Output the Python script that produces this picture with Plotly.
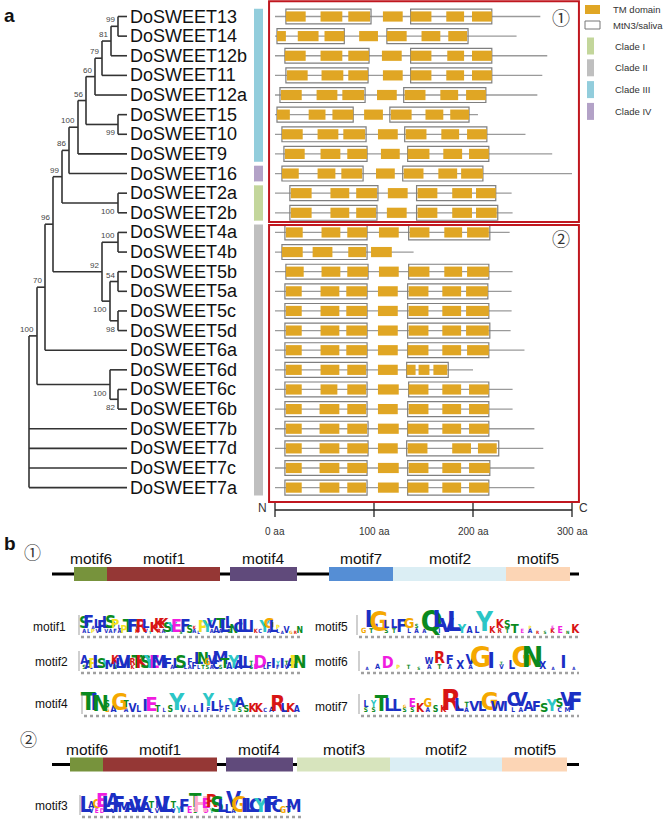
import plotly.graph_objects as go

W, H = 669, 820
FONT = "Liberation Sans, Arial, Helvetica, sans-serif"

# ---------------- panel a data ----------------
genes = ["DoSWEET13", "DoSWEET14", "DoSWEET12b", "DoSWEET11", "DoSWEET12a", "DoSWEET15",
         "DoSWEET10", "DoSWEET9", "DoSWEET16", "DoSWEET2a", "DoSWEET2b", "DoSWEET4a",
         "DoSWEET4b", "DoSWEET5b", "DoSWEET5a", "DoSWEET5c", "DoSWEET5d", "DoSWEET6a",
         "DoSWEET6d", "DoSWEET6c", "DoSWEET6b", "DoSWEET7b", "DoSWEET7d", "DoSWEET7c", "DoSWEET7a"]
protein_len = [268, 244, 275, 270, 265, 205, 253, 280, 300, 239, 240, 237, 140, 240, 239,
               239, 238, 252, 200, 240, 240, 262, 271, 262, 262]
mtn3_domains = [
    [(11, 97), (137, 219)], [(2, 70), (113, 195)], [(10, 95), (137, 219)], [(11, 94), (137, 219)],
    [(5, 91), (130, 213)], [(2, 79), (116, 196)], [(7, 92), (131, 214)], [(9, 93), (134, 216)],
    [(7, 89), (129, 210)], [(15, 104), (143, 223)], [(15, 103), (143, 225)], [(10, 93), (135, 217)],
    [(7, 93)], [(11, 94), (135, 216)], [(10, 93), (134, 215)], [(10, 93), (134, 216)],
    [(10, 93), (134, 217)], [(10, 93), (134, 216)], [(10, 93), (133, 175)], [(10, 93), (135, 216)],
    [(10, 93), (134, 216)], [(10, 94), (134, 216)], [(10, 94), (133, 226)], [(10, 93), (134, 217)],
    [(10, 93), (134, 216)]]
tm_domains = [
    [(11, 31), (46, 68), (74, 96), (109, 129), (137, 158), (173, 191), (199, 219)],
    [(2, 11), (23, 44), (50, 70), (85, 104), (113, 133), (148, 167), (175, 194)],
    [(10, 31), (46, 68), (74, 95), (108, 128), (137, 158), (174, 191), (199, 219)],
    [(12, 33), (47, 69), (74, 94), (109, 129), (137, 158), (173, 191), (199, 219)],
    [(6, 27), (42, 63), (68, 90), (103, 123), (131, 152), (167, 185), (193, 213)],
    [(2, 15), (34, 51), (58, 79), (90, 109), (117, 138), (152, 170), (177, 196)],
    [(7, 28), (43, 64), (69, 91), (104, 124), (132, 153), (168, 186), (194, 214)],
    [(10, 30), (46, 66), (73, 93), (107, 126), (134, 156), (170, 189), (196, 216)],
    [(7, 24), (43, 61), (67, 88), (102, 121), (130, 150), (165, 184), (188, 210)],
    [(16, 37), (56, 75), (82, 103), (114, 134), (144, 164), (179, 199), (203, 223)],
    [(16, 37), (56, 75), (82, 102), (113, 133), (144, 164), (179, 199), (203, 224)],
    [(11, 28), (47, 66), (73, 93), (105, 125), (136, 156), (171, 189), (194, 216)],
    [(7, 28), (38, 58), (74, 92), (97, 118)],
    [(11, 29), (47, 66), (73, 94), (105, 125), (135, 156), (171, 189), (194, 216)],
    [(11, 27), (46, 65), (72, 93), (104, 124), (135, 155), (169, 188), (193, 215)],
    [(11, 27), (46, 65), (72, 93), (104, 124), (135, 155), (169, 188), (193, 216)],
    [(11, 27), (46, 65), (72, 93), (104, 124), (135, 155), (169, 188), (193, 216)],
    [(11, 27), (46, 65), (72, 93), (104, 124), (134, 155), (169, 188), (194, 216)],
    [(11, 27), (46, 65), (73, 92), (104, 124), (133, 142), (145, 156), (160, 174)],
    [(11, 27), (46, 63), (73, 92), (104, 125), (135, 155), (169, 188), (196, 216)],
    [(11, 27), (45, 65), (73, 92), (104, 124), (135, 155), (169, 188), (196, 216)],
    [(11, 27), (45, 65), (73, 93), (104, 125), (134, 155), (169, 188), (196, 216)],
    [(11, 27), (45, 65), (73, 94), (104, 124), (134, 154), (179, 198), (205, 224)],
    [(11, 27), (45, 65), (73, 93), (104, 125), (135, 155), (169, 188), (196, 217)],
    [(11, 27), (45, 65), (73, 92), (104, 125), (134, 155), (169, 188), (196, 216)]]

clades = [("Clade III", 0, 7, "#92CDDC"), ("Clade IV", 8, 8, "#B3A2C7"),
          ("Clade I", 9, 10, "#C3D69B"), ("Clade II", 11, 24, "#BFBFBF")]
legend_clades = ["Clade I", "Clade II", "Clade III", "Clade IV"]
groups = [("①", 0, 10), ("②", 11, 24)]

# tree: node, depth, bootstrap, label side, children
tree = [
    ("root", 29, "", "top", ["n100c", "DoSWEET7b", "DoSWEET7d", "DoSWEET7c", "DoSWEET7a"]),
    ("n100c", 37, "100", "top", ["n70", "n6grp"]),
    ("n70", 45, "70", "top", ["n96", "DoSWEET6a"]),
    ("n96", 53, "96", "top", ["n99b", "n92"]),
    ("n99b", 62, "99", "top", ["n86", "n2ab"]),
    ("n86", 69, "86", "top", ["n100a", "DoSWEET16"]),
    ("n100a", 78, "100", "top", ["n56", "DoSWEET9"]),
    ("n56", 86, "56", "top", ["n60", "n15_10"]),
    ("n60", 95, "60", "top", ["n79", "DoSWEET12a"]),
    ("n79", 102, "79", "top", ["n81", "DoSWEET11"]),
    ("n81", 111, "81", "top", ["n13_14", "DoSWEET12b"]),
    ("n13_14", 118, "99", "top", ["DoSWEET13", "DoSWEET14"]),
    ("n15_10", 118, "99", "bottom", ["DoSWEET15", "DoSWEET10"]),
    ("n2ab", 118, "100", "bottom", ["DoSWEET2a", "DoSWEET2b"]),
    ("n92", 102, "92", "top", ["n4ab", "n5grp"]),
    ("n4ab", 118, "100", "top", ["DoSWEET4a", "DoSWEET4b"]),
    ("n5grp", 110, "100", "bottom", ["n5ba", "n5cd"]),
    ("n5ba", 118, "54", "top", ["DoSWEET5b", "DoSWEET5a"]),
    ("n5cd", 118, "98", "bottom", ["DoSWEET5c", "DoSWEET5d"]),
    ("n6grp", 110, "100", "bottom", ["DoSWEET6d", "n6cb"]),
    ("n6cb", 118, "82", "bottom", ["DoSWEET6c", "DoSWEET6b"]),
]
LEAF_DEPTH = 127

aa_ticks = [0, 100, 200, 300]
aa_tick_text = ["0 aa", "100 aa", "200 aa", "300 aa"]

# ---------------- panel b data ----------------
motif_colors = {"motif1": "#953735", "motif2": "#DBEEF4", "motif3": "#D7E4BD", "motif4": "#604A7B",
                "motif5": "#FCD5B5", "motif6": "#77933C", "motif7": "#558ED5"}
diag1_len = 527
diag1 = [("motif6", 22, 55), ("motif1", 55, 168), ("motif4", 178, 245),
         ("motif7", 277, 341), ("motif2", 341, 454), ("motif5", 454, 518)]
diag2_len = 527
diag2 = [("motif6", 18, 51), ("motif1", 51, 165), ("motif4", 174, 241),
         ("motif3", 245, 338), ("motif2", 338, 450), ("motif5", 450, 515)]

logo_motif1 = "SFALFLSPLPTFVRLYKKKSYESFSKLPYVATLLNCLLIKCYGLPAVGRN"
logo_motif1_h = [.55, .6, .15, .45, .55, .55, .6, .45, .2, .35, .85, .6, .15, .6, .45, .15, .5, .5, .5, .5,
                 .5, .65, .15, .6, .35, .15, .15, .55, .55, .5, .3, .5, .75, .55, .4, .5, .7, .7, .55, .2,
                 .2, .55, .5, .55, .2, .15, .3, .15, .15, .3]
logo_motif1_sub = "ALPV.VAFA...K.V..RA......A...A.A.S........A.L....."
logo_motif5 = "GLGLLFGSAQLVLYALYKKSTEPRSEENK"
logo_motif5_h = [.25, .8, .9, .35, .4, .6, .5, .2, .2, 1.0, .8, .7, .9, .45, .3, .3, .9, .3, .4, .35,
                 .45, .2, .15, .15, .15, .15, .3, .15, .4]
logo_motif5_sub = ".T.ST.LA..I.......RT..A..K..."
logo_motif2 = "AAPLSYMKLVIRTKSYEMIFALSLFFLNGVCMTAYALLTEDLFIYITAPN"
logo_motif2_h = [.4, .4, .5, .8, .5, .4, .45, .4, .5, .6, .65, .3, .8, .85, .85, .7, .6, .9, .9, .5,
                 .2, .5, .8, .2, .3, .3, .55, .55, .3, .4, .4, .7, .5, .3, .6, .4, .65, .55, .2, .25,
                 .8, .2, .3, .5, .2, .5, .2, .5, .8, .9]
logo_motif2_sub = "S......N...K............A.LTSA.S......S.....F.V..."
logo_motif6 = "AADPTSWRFXVGITLGNXAIA"
logo_motif6_h = [.1, .25, .55, .2, .2, .1, .3, .55, .45, .4, .5, 1.0, .75, .1, .4, 1.0, 1.0, .35, .1, .6, .1]
logo_motif6_sub = "......ATA.A..V......."
logo_motif4 = "TINSAGTVLIETLSYVLLIYLLFYASKKCARLKA"
logo_motif4_h = [1.0, .8, .75, .3, .3, .8, .3, .4, .3, .55, .7, .3, .2, .3, .8, .3, .2, .3, .4, .6,
                 .5, .3, .3, .6, .5, .3, .4, .4, .2, .25, .75, .4, .45, .3]
logo_motif4_sub = "...G..A............F.F..S.........."
logo_motif7 = "LYTLLGEKGSKRLTVLGWICVAFSYSVF"
logo_motif7_h = [.3, .3, .75, .6, .55, .15, .4, .4, .4, .3, .3, 1.0, .6, .25, .5, .5, .85, .5, .5, .7,
                 .7, .5, .5, .45, .55, .4, .7, .85]
logo_motif7_sub = "SS...SS.A....A.....LA....CM."
logo_motif3 = "LAGELAFMAVVATIVLTYFETHERSLLVGILCYIFCGTMY"
logo_motif3_h = [.9, .3, .4, .7, .75, .7, .8, .5, .5, .6, .8, .5, .3, .3, .8, .8, .3, .3, .6, .3,
                 .7, .8, .5, .6, .8, .6, .4, .85, .9, .7, .7, .7, .7, .7, .75, .6, .3, .3, .6, .9]
logo_motif3_sub = ".VED.V......LV..V...S.DY...A..........."

aa_colors = {}
for c in "ACFILMVWX":
    aa_colors[c] = "#1B2FC4"
for c in "NQST":
    aa_colors[c] = "#0A8A1E"
for c in "DE":
    aa_colors[c] = "#F01CE0"
for c in "KR":
    aa_colors[c] = "#D81414"
aa_colors["H"] = "#FFA8C8"
aa_colors["G"] = "#F5A800"
aa_colors["P"] = "#F2E21C"
aa_colors["Y"] = "#2CC6C6"

# ---------------- helpers ----------------
def pxx(x):
    return x / W


def pxy(y):
    return 1 - y / H


ROW0, ROWSTEP = 16.5, 19.63


def row_of(p):
    return (p - ROW0) / ROWSTEP


AA0, AASCALE = 275, 0.99

fig = go.Figure()
shapes = []
ann = []


def add_ann(**kw):
    kw.setdefault("showarrow", False)
    kw.setdefault("xanchor", "center")
    kw.setdefault("yanchor", "middle")
    ann.append(kw)


# ---------------- tree ----------------
nodes = {n[0]: n for n in tree}
ypos = {g: i for i, g in enumerate(genes)}


def node_y(name):
    if name in ypos:
        return ypos[name]
    ys = [node_y(c) for c in nodes[name][4]]
    ypos[name] = (min(ys) + max(ys)) / 2
    return ypos[name]


def depth(name):
    return nodes[name][1] if name in nodes else LEAF_DEPTH


tx, ty = [], []
for name, d, sup, side, children in tree:
    cys = [node_y(c) for c in children]
    tx += [d, d, None]
    ty += [min(cys), max(cys), None]
    for c, cy in zip(children, cys):
        tx += [d, depth(c), None]
        ty += [cy, cy, None]
    if sup:
        add_ann(x=d - 0.8, y=node_y(name), xref="x", yref="y", text=sup,
                xanchor="right", yanchor="bottom" if side == "top" else "top",
                yshift=0 if side == "top" else -2,
                font=dict(size=8, color="#444", family=FONT))

fig.add_trace(go.Scatter(x=tx, y=ty, mode="lines", line=dict(color="#333", width=1.6),
                         xaxis="x", yaxis="y", hoverinfo="skip"))

for i, g in enumerate(genes):
    add_ann(x=LEAF_DEPTH + 0.5, y=i, xref="x", yref="y", text=g,
            xanchor="left", font=dict(size=18, color="#111", family=FONT))

# clade bars
for name, r0, r1, col in clades:
    shapes.append(dict(type="rect", xref="x", yref="y", x0=254, x1=263, y0=r0 - 0.4, y1=r1 + 0.4,
                       fillcolor=col, line=dict(width=0), layer="above"))

# ---------------- gene structures ----------------
gx, gy = [], []
for i, L in enumerate(protein_len):
    gx += [0, L, None]
    gy += [i, i, None]
fig.add_trace(go.Scatter(x=gx, y=gy, mode="lines", line=dict(color="#9A9A9A", width=1.3),
                         xaxis="x2", yaxis="y", hoverinfo="skip"))
for i, doms in enumerate(mtn3_domains):
    for s, e in doms:
        shapes.append(dict(type="rect", xref="x2", yref="y", x0=s, x1=e, y0=i - 0.38, y1=i + 0.38,
                           line=dict(color="#7F7F7F", width=1.2), fillcolor="rgba(0,0,0,0)"))
TM_COLOR = "#E0A624"
for i, doms in enumerate(tm_domains):
    for s, e in doms:
        shapes.append(dict(type="rect", xref="x2", yref="y", x0=s, x1=e, y0=i - 0.26, y1=i + 0.26,
                           line=dict(width=0), fillcolor=TM_COLOR))

# red group boxes
pads = {"①": (0.78, 0.47), "②": (0.38, 0.73)}
for lab, r0, r1 in groups:
    pt, pb = pads[lab]
    shapes.append(dict(type="rect", xref="x2", yref="y", x0=-6, x1=307, y0=r0 - pt, y1=r1 + pb,
                       line=dict(color="#C0171F", width=2), fillcolor="rgba(0,0,0,0)"))
    add_ann(x=289, y=r0 + (0.0 if lab == "①" else 0.3), xref="x2", yref="y", text=lab,
            font=dict(size=18, color="#333", family="Noto Sans CJK JP"))

# aa axis
shapes.append(dict(type="line", xref="x2", yref="paper", x0=0, x1=300, y0=pxy(510), y1=pxy(510),
                   line=dict(color="#222", width=1.3)))
for t, tt in zip(aa_ticks, aa_tick_text):
    shapes.append(dict(type="line", xref="x2", yref="paper", x0=t, x1=t, y0=pxy(503), y1=pxy(517),
                       line=dict(color="#222", width=1.3)))
    add_ann(x=t, y=pxy(531), xref="x2", yref="paper", text=tt,
            font=dict(size=10, color="#333", family=FONT))
add_ann(x=-13, y=pxy(508), xref="x2", yref="paper", text="N", font=dict(size=12, color="#333", family=FONT))
add_ann(x=312, y=pxy(508), xref="x2", yref="paper", text="C", font=dict(size=12, color="#333", family=FONT))

# legend
shapes.append(dict(type="rect", xref="paper", yref="paper", x0=pxx(585), x1=pxx(600), y0=pxy(14), y1=pxy(5),
                   fillcolor=TM_COLOR, line=dict(width=0)))
shapes.append(dict(type="rect", xref="paper", yref="paper", x0=pxx(585), x1=pxx(600), y0=pxy(29), y1=pxy(21),
                   fillcolor="white", line=dict(color="#777", width=1)))
add_ann(x=pxx(611), y=pxy(9.5), xref="paper", yref="paper", text="TM domain",
        xanchor="left", font=dict(size=9.5, color="#333", family=FONT))
add_ann(x=pxx(611), y=pxy(25), xref="paper", yref="paper", text="MtN3/saliva",
        xanchor="left", font=dict(size=9.5, color="#333", family=FONT))
clade_col = {c[0]: c[3] for c in clades}
for k, name in enumerate(legend_clades):
    yc = 46 + 21.8 * k
    shapes.append(dict(type="rect", xref="paper", yref="paper", x0=pxx(587), x1=pxx(594),
                       y0=pxy(yc + 8.5), y1=pxy(yc - 8.5), fillcolor=clade_col[name], line=dict(width=0)))
    add_ann(x=pxx(613), y=pxy(yc), xref="paper", yref="paper", text=name,
            xanchor="left", font=dict(size=9.5, color="#333", family=FONT))

# panel letters
add_ann(x=pxx(9), y=pxy(15), xref="paper", yref="paper", text="<b>a</b>",
        font=dict(size=19, color="#111", family=FONT))
add_ann(x=pxx(10), y=pxy(543), xref="paper", yref="paper", text="<b>b</b>",
        font=dict(size=19, color="#111", family=FONT))

# ---------------- panel b: motif diagrams ----------------
diagrams = [("①", diag1_len, diag1, 574, 558, (32, 551)), ("②", diag2_len, diag2, 764.5, 749, (28, 738))]
for lab, L, motifs, yc, ylab, cpos in diagrams:
    fig.add_trace(go.Scatter(x=[0, L], y=[yc, yc], mode="lines", line=dict(color="black", width=3),
                             xaxis="x3", yaxis="y2", hoverinfo="skip"))
    for m, s, e in motifs:
        shapes.append(dict(type="rect", xref="x3", yref="y2", x0=s, x1=e, y0=yc - 7, y1=yc + 7,
                           fillcolor=motif_colors[m], line=dict(width=0)))
        add_ann(x=(s + e) / 2, y=ylab, xref="x3", yref="y2", text=m,
                font=dict(size=15.5, color="#111", family=FONT))
    add_ann(x=pxx(cpos[0]), y=pxy(cpos[1]), xref="paper", yref="paper", text=lab,
            font=dict(size=17, color="#333", family="Noto Sans CJK JP"))

# ---------------- panel b: logos ----------------
logos = [
    ("motif1", logo_motif1, logo_motif1_h, logo_motif1_sub, (82, 302, 634, 627, 68)),
    ("motif5", logo_motif5, logo_motif5_h, logo_motif5_sub, (360, 579, 634, 627, 350)),
    ("motif2", logo_motif2, logo_motif2_h, logo_motif2_sub, (82, 302, 670, 662, 70)),
    ("motif6", logo_motif6, logo_motif6_h, logo_motif6_sub, (362, 579, 670, 662, 350)),
    ("motif4", logo_motif4, logo_motif4_h, logo_motif4_sub, (85, 300, 713, 704, 70)),
    ("motif7", logo_motif7, logo_motif7_h, logo_motif7_sub, (362, 579, 713, 707, 350)),
    ("motif3", logo_motif3, logo_motif3_h, logo_motif3_sub, (83, 302, 814, 806, 70)),
]
LOGO_FONT = "Liberation Sans Narrow, DejaVu Sans Condensed, Liberation Sans, Arial"
layout_axes = {}
for k, (name, seq, hts, sub, (x0, x1, base, ylab, xlab)) in enumerate(logos):
    ax = 4 + k
    n = len(seq)
    spacing = (x1 - x0) / n
    cap = spacing * 3.4 + 3
    layout_axes["xaxis%d" % ax] = dict(domain=[pxx(x0), pxx(x1)], range=[0.5, n + 0.5],
                                       anchor="y2", visible=False)
    pos = list(range(1, n + 1))
    sub_size = max(4.5, min(6.5, spacing * 1.3))
    sx, sy, st, sc = [], [], [], []
    for p, ch in zip(pos, sub):
        if ch != ".":
            sx.append(p)
            sy.append(base - 0.36 * sub_size)
            st.append(ch)
            sc.append(aa_colors[ch])
    fig.add_trace(go.Scatter(x=sx, y=sy, text=st, mode="text", textposition="middle center",
                             textfont=dict(size=sub_size, color=sc, family=LOGO_FONT, weight="bold"),
                             xaxis="x%d" % ax, yaxis="y2", hoverinfo="skip", cliponaxis=False))
    mx, my, mt, ms, mc = [], [], [], [], []
    for p, ch, h, s2 in zip(pos, seq, hts, sub):
        size = max(4.5, min(29 * h, cap))
        b = base - (0.75 * sub_size if s2 != "." else 0)
        mx.append(p)
        my.append(b - 0.36 * size)
        mt.append(ch)
        ms.append(size)
        mc.append(aa_colors[ch])
    fig.add_trace(go.Scatter(x=mx, y=my, text=mt, mode="text", textposition="middle center",
                             textfont=dict(size=ms, color=mc, family=LOGO_FONT, weight="bold"),
                             xaxis="x%d" % ax, yaxis="y2", hoverinfo="skip", cliponaxis=False))
    shapes.append(dict(type="line", xref="paper", yref="paper", x0=pxx(x0 - 3), x1=pxx(x0 - 3),
                       y0=pxy(base + 1), y1=pxy(base - 19), line=dict(color="#777", width=0.7)))
    shapes.append(dict(type="line", xref="paper", yref="paper", x0=pxx(x0 - 1), x1=pxx(x1),
                       y0=pxy(base + 3), y1=pxy(base + 3), line=dict(color="#A0A0A0", width=2.5, dash="dot")))
    add_ann(x=pxx(xlab), y=pxy(ylab), xref="paper", yref="paper", text=name,
            xanchor="right", font=dict(size=12, color="#111", family=FONT))

fig.update_layout(
    width=W, height=H, margin=dict(l=0, r=0, t=0, b=0),
    paper_bgcolor="white", plot_bgcolor="rgba(0,0,0,0)", showlegend=False,
    xaxis=dict(domain=[0, pxx(275)], range=[0, 275], visible=False, fixedrange=True),
    yaxis=dict(domain=[pxy(545), 1], range=[row_of(545), row_of(0)], visible=False, fixedrange=True),
    xaxis2=dict(domain=[pxx(250), 1], range=[(250 - AA0) / AASCALE, (669 - AA0) / AASCALE],
                anchor="y", visible=False, fixedrange=True),
    xaxis3=dict(domain=[0, 1], range=[-52, 617], anchor="y2", visible=False, fixedrange=True),
    yaxis2=dict(domain=[0, 1], range=[H, 0], anchor="x3", visible=False, fixedrange=True),
    shapes=shapes, annotations=ann,
)
fig.update_layout(**layout_axes)

fig.write_html("out.html", config={"displayModeBar": False},
               post_script="document.body.style.margin='0px';")
